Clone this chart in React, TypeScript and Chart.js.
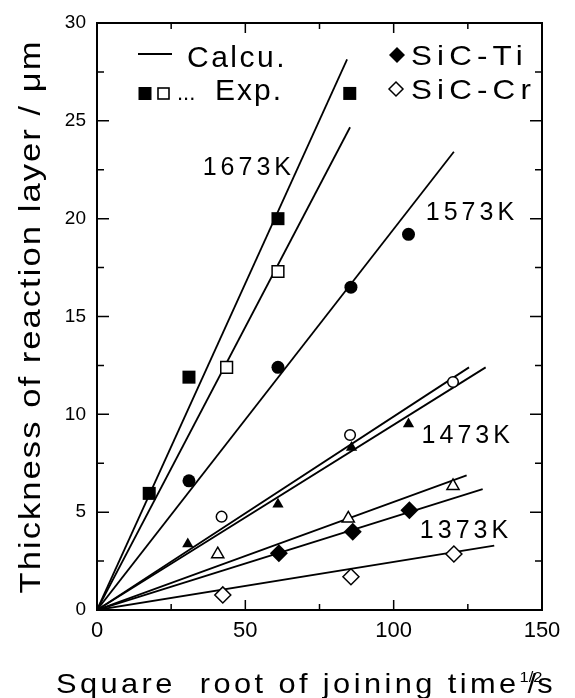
import React, { useEffect, useRef } from "react";
import { Chart, registerables } from "chart.js";

Chart.register(...registerables);

// ---------- data ----------
const filledSquareX = [17.6, 31, 61, 85.2];
const filledSquareY = [5.96, 11.9, 20.0, 26.4];
const openSquareX = [43.7, 61];
const openSquareY = [12.4, 17.3];
const filledCircleX = [31, 61, 85.6, 105];
const filledCircleY = [6.6, 12.4, 16.5, 19.2];
const openCircleX = [42, 85.3, 120];
const openCircleY = [4.77, 8.94, 11.65];
const filledTriangleX = [30.6, 61, 85.8, 105];
const filledTriangleY = [3.37, 5.4, 8.3, 9.5];
const openTriangleX = [40.7, 84.7, 120];
const openTriangleY = [2.85, 4.68, 6.34];
const filledDiamondX = [61.3, 86.2, 105.3];
const filledDiamondY = [2.9, 4.0, 5.1];
const openDiamondX = [42.4, 85.6, 120.3];
const openDiamondY = [0.77, 1.7, 2.86];

// calculated lines, all from the origin
const calcEndX = [84.3, 85.3, 120.3, 125.4, 131, 124.6, 130, 133.9];
const calcEndY = [28.14, 24.67, 23.42, 12.4, 12.4, 6.88, 6.18, 3.29];

const tempLabels = ["1673K", "1573K", "1473K", "1373K"];
const tempLabelX = [50.5, 125.7, 124.3, 123.7];
const tempLabelY = [22.7, 20.4, 9.0, 4.14];

const xMin = 0, xMax = 150, xStep = 50, xMinorStep = 25;
const yMin = 0, yMax = 30, yStep = 5, yMinorStep = 2.5;

const xTitle = "Square  root of joining time";
const xTitleSup = "1/2";
const xTitleUnit = "/s";
const yTitle = "Thickness of reaction layer / \u03bcm";
const legendCalc = "Calcu.";
const legendExp = "Exp.";
const legendTi = "SiC-Ti";
const legendCr = "SiC-Cr";

const FONT = '"Liberation Sans", Arial, Helvetica, sans-serif';

function pts(xs: number[], ys: number[]) {
  return xs.map((x, i) => ({ x, y: ys[i] }));
}

function drawText(
  ctx: CanvasRenderingContext2D,
  s: string,
  x: number,
  y: number,
  size: number,
  ls: number,
  align: "left" | "center" | "right",
  sx = 1,
  rot = 0
) {
  ctx.save();
  ctx.translate(x, y);
  if (rot) ctx.rotate(rot);
  ctx.scale(sx, 1);
  ctx.font = `${size}px ${FONT}`;
  (ctx as any).letterSpacing = `${ls}px`;
  ctx.textBaseline = "alphabetic";
  ctx.textAlign = "left";
  ctx.fillStyle = "#000";
  const w = ctx.measureText(s).width - ls;
  const dx = align === "left" ? 0 : align === "center" ? -w / 2 : -w;
  ctx.fillText(s, dx, 0);
  ctx.restore();
}

const decorPlugin = {
  id: "decor",
  afterDraw(chart: any) {
    const ctx: CanvasRenderingContext2D = chart.ctx;
    const { left, right, top, bottom } = chart.chartArea;
    const xs = chart.scales.x;
    const ys = chart.scales.y;
    ctx.save();
    // frame
    ctx.strokeStyle = "#000";
    ctx.lineWidth = 2;
    ctx.strokeRect(left, top, right - left, bottom - top);
    // ticks (inward, all sides)
    ctx.lineWidth = 1.5;
    ctx.beginPath();
    for (let v = xMin; v <= xMax + 1e-9; v += xMinorStep) {
      const p = xs.getPixelForValue(v);
      const len = Math.abs(v % xStep) < 1e-9 ? 10 : 6;
      ctx.moveTo(p, bottom);
      ctx.lineTo(p, bottom - len);
      ctx.moveTo(p, top);
      ctx.lineTo(p, top + len);
    }
    for (let v = yMin; v <= yMax + 1e-9; v += yMinorStep) {
      const p = ys.getPixelForValue(v);
      const len = Math.abs(v % yStep) < 1e-9 ? 12 : 7;
      ctx.moveTo(left, p);
      ctx.lineTo(left + len, p);
      ctx.moveTo(right, p);
      ctx.lineTo(right - len, p);
    }
    ctx.stroke();

    // temperature labels
    tempLabels.forEach((t, i) => {
      const px = xs.getPixelForValue(tempLabelX[i]);
      const py = ys.getPixelForValue(tempLabelY[i]);
      drawText(ctx, t, px, py + 9, 25, 4, "center");
    });

    // legend
    ctx.strokeStyle = "#000";
    ctx.lineWidth = 2;
    ctx.beginPath();
    ctx.moveTo(138, 54);
    ctx.lineTo(172, 54);
    ctx.stroke();
    drawText(ctx, legendCalc, 187, 66.5, 30, 2.5, "left");
    ctx.fillStyle = "#000";
    ctx.fillRect(138.5, 87, 13, 13);
    ctx.lineWidth = 1.6;
    ctx.strokeRect(158, 88, 11, 11);
    drawText(ctx, "...", 177, 99.5, 22, 0, "left");
    drawText(ctx, legendExp, 215, 100, 30, 2, "left");

    // diamonds
    const diamond = (cx: number, cy: number, r: number, filled: boolean) => {
      ctx.beginPath();
      ctx.moveTo(cx - r, cy);
      ctx.lineTo(cx, cy - r);
      ctx.lineTo(cx + r, cy);
      ctx.lineTo(cx, cy + r);
      ctx.closePath();
      if (filled) {
        ctx.fillStyle = "#000";
        ctx.fill();
      } else {
        ctx.fillStyle = "#fff";
        ctx.fill();
        ctx.lineWidth = 1.5;
        ctx.strokeStyle = "#000";
        ctx.stroke();
      }
    };
    diamond(397, 55, 8, true);
    diamond(396, 89, 7, false);
    drawText(ctx, legendTi, 411, 65, 28, 4.6, "left", 1.12);
    drawText(ctx, legendCr, 411, 99, 28, 4.6, "left", 1.12);

    // y title
    drawText(ctx, yTitle, 40, (top + bottom) / 2 + 1, 30, 1.8, "center", 1.15, -Math.PI / 2);

    // x title
    const baseY = 693;
    const ls = 3.1;
    drawText(ctx, xTitle, 56, baseY, 28, ls, "left", 1.1);
    ctx.save();
    ctx.font = `28px ${FONT}`;
    (ctx as any).letterSpacing = `${ls}px`;
    const w = ctx.measureText(xTitle).width * 1.1;
    ctx.restore();
    const sx0 = 56 + w;
    drawText(ctx, xTitleSup, sx0, baseY - 11, 15, 0, "left", 1.1);
    drawText(ctx, xTitleUnit, sx0 + 8, baseY, 28, 1, "left", 1.1);
    ctx.restore();
  },
};

export default function App() {
  const ref = useRef<HTMLCanvasElement | null>(null);

  useEffect(() => {
    if (!ref.current) return;
    const datasets: any[] = [];
    calcEndX.forEach((ex, i) => {
      datasets.push({
        label: "Calcu.",
        data: [
          { x: 0, y: 0 },
          { x: ex, y: calcEndY[i] },
        ],
        showLine: true,
        borderColor: "#000",
        borderWidth: 1.8,
        pointRadius: 0,
        pointHoverRadius: 0,
        fill: false,
        order: 2,
      });
    });
    const marker = (
      label: string,
      xs: number[],
      ys: number[],
      style: string,
      r: number,
      filled: boolean
    ) => ({
      label,
      data: pts(xs, ys),
      showLine: false,
      pointStyle: style,
      pointRadius: r,
      pointHoverRadius: r,
      pointBackgroundColor: filled ? "#000" : "#fff",
      pointBorderColor: "#000",
      pointBorderWidth: filled ? 0 : 1.5,
      order: 1,
    });
    datasets.push(marker("filled square", filledSquareX, filledSquareY, "rect", 9.2, true));
    datasets.push(marker("open square", openSquareX, openSquareY, "rect", 8.3, false));
    datasets.push(marker("filled circle", filledCircleX, filledCircleY, "circle", 6.5, true));
    datasets.push(marker("open circle", openCircleX, openCircleY, "circle", 5.3, false));
    datasets.push(marker("filled triangle", filledTriangleX, filledTriangleY, "triangle", 6.5, true));
    datasets.push(marker("open triangle", openTriangleX, openTriangleY, "triangle", 7, false));
    datasets.push(marker("filled diamond", filledDiamondX, filledDiamondY, "rectRot", 9, true));
    datasets.push(marker("open diamond", openDiamondX, openDiamondY, "rectRot", 8, false));

    const chart = new Chart(ref.current, {
      type: "scatter",
      data: { datasets },
      options: {
        animation: false,
        responsive: false,
        events: [],
        layout: { padding: { top: 23, right: 33, left: 0, bottom: 0 } },
        plugins: {
          legend: { display: false },
          tooltip: { enabled: false },
        },
        scales: {
          x: {
            type: "linear",
            min: xMin,
            max: xMax,
            afterFit: (s: any) => {
              s.height = 88;
            },
            grid: { display: false, drawTicks: false },
            border: { display: false },
            ticks: {
              stepSize: xStep,
              padding: 8,
              color: "#000",
              font: { size: 22, family: FONT },
              maxRotation: 0,
            },
          },
          y: {
            type: "linear",
            min: yMin,
            max: yMax,
            afterFit: (s: any) => {
              s.width = 97;
            },
            grid: { display: false, drawTicks: false },
            border: { display: false },
            ticks: {
              stepSize: yStep,
              padding: 11,
              color: "#000",
              font: { size: 19, family: FONT },
            },
          },
        },
      },
      plugins: [decorPlugin],
    } as any);
    return () => chart.destroy();
  }, []);

  return (
    <div style={{ position: "absolute", left: 0, top: 0, width: 575, height: 698, background: "#fff" }}>
      <canvas ref={ref} width={575} height={698} style={{ display: "block" }} />
    </div>
  );
}
